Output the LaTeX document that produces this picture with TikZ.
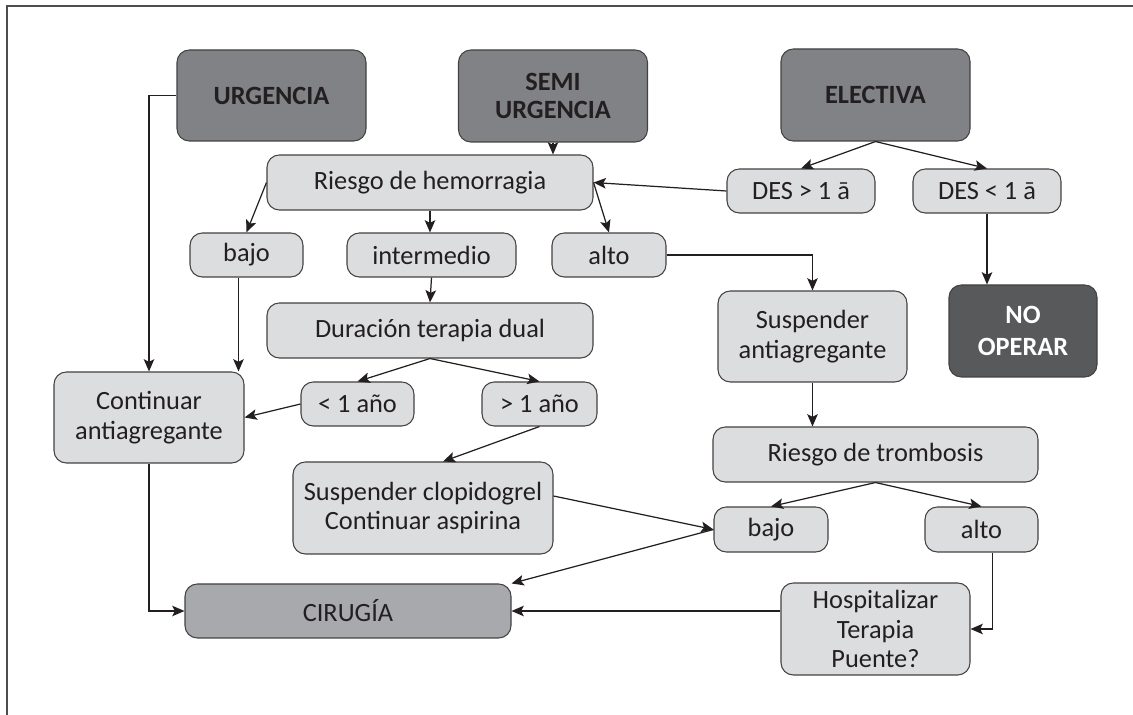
\documentclass[tikz,border=0pt]{standalone}
\usepackage{fontspec}
\setmainfont{Carlito}
\usetikzlibrary{arrows.meta}

\definecolor{ink}{HTML}{231F20}
\definecolor{boxlight}{HTML}{DCDDDE}
\definecolor{boxmid}{HTML}{A7A9AC}
\definecolor{boxdark}{HTML}{808285}
\definecolor{boxblack}{HTML}{58595B}

\tikzset{
  every box/.style={draw=ink!85, line width=0.6pt, rounded corners=7pt,
    inner sep=1pt, align=center, text=ink,
    font=\fontsize{15}{17}\selectfont},
  box light/.style={every box, fill=boxlight},
  box mid/.style={every box, fill=boxmid},
  box dark/.style={every box, fill=boxdark, font=\fontsize{15}{16}\selectfont\bfseries},
  box black/.style={every box, fill=boxblack, text=white, font=\fontsize{15}{18}\selectfont\bfseries},
  wh/.style 2 args={minimum width=#1*0.02cm, minimum height=#2*0.02cm},
}

\begin{document}
\begin{tikzpicture}[x=0.02cm, y=-0.02cm, >={Stealth[length=7pt,width=6pt,inset=1.5pt]},
    line width=0.7pt, draw=ink]
  \useasboundingbox (0,0) rectangle (1133,715);
  % frame
  \draw [line width=0.9pt, ink!80] (7,715) -- (7,6) -- (1133,6);

  % top row
  \node [box dark, wh={189}{91}] (urgencia) at (271.5,95.5) {URGENCIA};
  \node [box dark, wh={189}{92}] (semi) at (553,96) {SEMI\\URGENCIA};
  \node [box dark, wh={189}{92}] (electiva) at (875.5,95) {ELECTIVA};

  % bleeding risk branch
  \node [box light, wh={326}{55}] (hemorragia) at (430,182.5) {Riesgo de hemorragia};
  \node [box light, wh={148}{44}] (des-mas) at (801,191) {DES > 1 ā};
  \node [box light, wh={148}{44}] (des-menos) at (987,191) {DES < 1 ā};
  \node [box light, wh={113}{44}] (bajo-h) at (246.5,255) {bajo};
  \node [box light, wh={169}{44}] (intermedio) at (431.5,255) {intermedio};
  \node [box light, wh={114}{44}] (alto-h) at (609,255) {alto};
  \node [box light, wh={326}{55}] (dual) at (430,330.5) {Duración terapia dual};
  \node [box light, wh={190}{91}] (continuar) at (149,417.5) {Continuar\\antiagregante};
  \node [box light, wh={113}{44}] (menos) at (357.5,404) {< 1 año};
  \node [box light, wh={115}{44}] (mas) at (539.5,404) {> 1 año};
  \node [box light, wh={260}{92}] (clopidogrel) at (423,508) {Suspender clopidogrel\\Continuar aspirina};
  \node [box mid, wh={326}{54}] (cirugia) at (348,611) {CIRUGÍA};

  % thrombosis branch
  \node [box light, wh={189}{91}] (suspender) at (812.5,336.5) {Suspender\\antiagregante};
  \node [box black, wh={148}{92}] (no-operar) at (1023,331) {NO\\OPERAR};
  \node [box light, wh={325}{55}] (trombosis) at (875.5,454.5) {Riesgo de trombosis};
  \node [box light, wh={114}{45}] (bajo-t) at (771,529.5) {bajo};
  \node [box light, wh={113}{45}] (alto-t) at (981.5,529.5) {alto};
  \node [box light, wh={189}{92}] (hospitalizar) at (875.5,629) {Hospitalizar\\Terapia\\Puente?};

  % straight connectors
  \foreach \a/\b in {electiva.south/des-mas.north, electiva.south/des-menos.north,
                     des-mas.west/hemorragia.east, hemorragia.west/bajo-h.north,
                     hemorragia.east/alto-h.north, intermedio.south/dual.north,
                     dual.south/menos.north, dual.south/mas.north,
                     menos.west/continuar.east, bajo-t.west/cirugia.north east,
                     trombosis.south/bajo-t.north, trombosis.south/alto-t.north}
    \draw [->] (\a) -- (\b);
  \draw [->] (semi.south) -- (semi.south |- hemorragia.north);
  \draw [->] (hemorragia.south) -- (hemorragia.south |- intermedio.north);
  \draw [->] (des-menos.south) -- (des-menos.south |- no-operar.north);
  \draw [->] (suspender.south) -- (suspender.south |- trombosis.north);
  \draw [->] (mas.south) -- ([xshift=0.4cm]clopidogrel.north);
  \draw [->] ([yshift=0.24cm]clopidogrel.east) -- (bajo-t.west);
  \draw [->] ([xshift=-0.16cm]bajo-h.south) -- ([xshift=-0.16cm]bajo-h.south |- continuar.north);
  \draw [->] (hospitalizar.west |- cirugia.east) -- (cirugia.east);

  % elbow connectors
  \draw [->] (urgencia.west) -| (continuar.north);
  \draw [->] (alto-h.east) -| (suspender.north);
  \draw [->] (continuar.south) |- (cirugia.west);
  \draw [->] ([xshift=0.22cm]alto-t.south) |- (hospitalizar.east);
\end{tikzpicture}
\end{document}
